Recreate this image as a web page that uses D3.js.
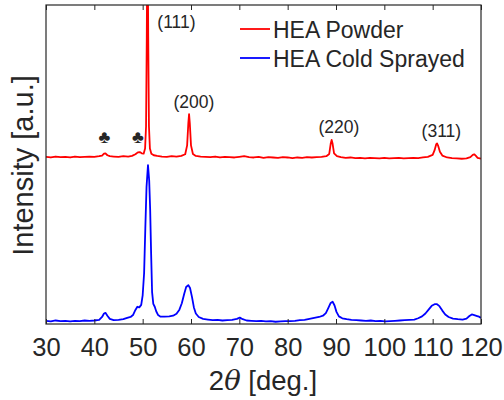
<!DOCTYPE html>
<html>
<head>
<meta charset="utf-8">
<script src="https://cdn.jsdelivr.net/npm/d3@7"></script>
<style>
  html, body { margin: 0; padding: 0; background: #fff; }
  svg { display: block; }
  text { font-family: "Liberation Sans", Arial, Helvetica, sans-serif; fill: #262626; }
</style>
</head>
<body>
<svg id="chart" width="504" height="400"></svg>
<script>
// ---- data (2θ in degrees, intensity in arbitrary units) ----
const xTicks = [30, 40, 50, 60, 70, 80, 90, 100, 110, 120];
const seriesNames = ["HEA Powder", "HEA Cold Sprayed"];
const seriesColors = ["#ff0000", "#0000ff"];

const powderTheta = [30,31,32,33,34,35,36,37,38,39,40,41,41.6,42.0,42.3,42.7,43.2,44,45,46,47,47.8,48.5,49.0,49.4,49.8,50.2,50.5,50.7,50.85,51.0,51.15,51.3,51.5,51.8,52.3,53,54,55,56,57,58,58.8,59.2,59.45,59.6,59.75,60.0,60.4,61,62,63,64,65,66,67,68,69,70,71,72,73,74,75,76,77,78,79,80,81,82,83,84,85,86,87,88,88.6,88.9,89.1,89.3,89.6,90.2,91,92,93,94,95,96,97,98,99,100,101,102,103,104,105,106,107,108,109,110.0,110.4,110.75,110.9,111.1,111.5,112.0,113,114,115,116,117,117.8,118.3,118.6,118.9,119.3,120];
const powderInt = [52.4,52.2,52.5,52.3,52.4,52.2,52.5,52.3,52.4,52.5,52.4,52.6,52.8,53.4,53.5,52.9,52.6,52.5,52.4,52.6,52.5,52.7,53.2,53.8,53.9,53.5,53.4,55,62,90,130,90,62,55,53.4,52.9,52.7,52.5,52.4,52.6,52.5,52.7,53.2,56,63,65.8,63,56,53.3,52.7,52.5,52.4,52.3,52.5,52.2,52.4,52.3,52.2,52.4,52.6,52.3,52.2,52.4,52.1,52.3,52.2,52.1,52.3,52.2,52.0,52.2,52.1,52.3,52.2,52.3,52.4,52.6,53.3,56.5,57.7,56.5,53.5,52.6,52.3,52.1,52.2,52.0,52.1,51.9,52.1,52.0,51.9,52.1,51.9,52.0,52.1,51.9,52.0,52.1,52.0,52.2,52.4,53.0,54.5,56.4,56.6,56.0,54.0,52.8,52.2,52.0,51.9,51.8,51.9,52.3,53.0,53.2,52.8,52.1,51.8];

const sprayTheta = [30,31,32,33,34,35,36,37,38,39,40,41,41.6,42.0,42.3,42.7,43.2,44,45,46,46.8,47.5,48.0,48.5,48.9,49.3,49.7,50.0,50.3,50.55,50.8,51.1,51.35,51.55,51.75,51.95,52.2,52.5,52.8,53.2,53.7,54.5,55.5,56.3,57.0,57.6,58.1,58.6,59.0,59.45,59.8,60.2,60.6,61.0,61.6,62.5,63.5,64.5,65.5,66.5,67.5,68.5,69.5,70.1,70.7,71.5,72.5,73.5,74.5,75.5,76.5,77.5,78.5,79.5,80.5,81.5,82.5,83.5,84.5,85.5,86.5,87.3,87.9,88.4,88.9,89.3,89.7,90.1,90.6,91.3,92.2,93.2,94.2,95.2,96.2,97.2,98.2,99.2,100.2,101.2,102.2,103.2,104.2,105.2,106.2,107.0,107.8,108.5,109.2,109.8,110.4,110.9,111.4,112.0,112.6,113.3,114.2,115.2,116.2,117.0,117.6,118.1,118.6,119.2,119.6,120];
const sprayInt = [1.0,0.8,1.1,0.9,1.0,0.8,1.0,0.9,1.1,1.0,1.1,1.3,2.2,3.3,3.5,2.6,1.6,1.2,1.3,1.5,1.9,2.2,2.8,4.4,5.4,5.2,6.0,9,16,30,43,49.8,45,36,22,10,6.3,5.4,4.0,2.8,2.3,2.3,2.4,2.6,3.2,4.5,6.5,9.5,11.6,12.2,11.3,8.5,5.2,3.3,2.2,1.6,1.4,1.2,1.3,1.1,1.2,1.3,1.6,2.0,1.5,1.1,1.0,0.9,1.0,0.8,0.9,0.7,0.8,0.9,0.9,1.0,1.2,1.3,1.6,1.9,2.2,2.6,3.4,5.0,6.6,7.0,5.8,3.8,2.4,1.8,1.5,1.3,1.2,1.1,1.0,1.1,0.9,1.0,0.8,0.9,1.0,1.1,1.2,1.3,1.4,1.8,2.4,3.3,4.6,5.7,6.2,6.2,5.6,4.2,3.0,2.2,1.7,1.5,1.4,1.7,2.5,3.0,2.8,2.5,2.3,1.9];

const peakLabels = ["(111)", "(200)", "(220)", "(311)"];
const peakLabelTheta = [57.0, 60.6, 90.6, 111.8];
const peakLabelInt = [92.8, 67.6, 59.8, 58.5];
const phaseMarkTheta = [42.1, 49.0];
const phaseMarkInt = [56.8, 56.8];

// ---- layout ----
const svg = d3.select("#chart");
const mLeft = 46, mRight = 481, mTop = 5, mBottom = 324;
const x = d3.scaleLinear().domain([30, 120]).range([mLeft, mRight]);
const y = d3.scaleLinear().domain([0, 100]).range([mBottom, mTop]);
const ink = "#262626";

svg.append("defs").append("clipPath").attr("id", "plotclip")
  .append("rect").attr("x", mLeft).attr("y", mTop).attr("width", mRight - mLeft).attr("height", mBottom - mTop);

const plot = svg.append("g").attr("clip-path", "url(#plotclip)");
const line = d3.line().x(d => x(d[0])).y(d => y(d[1]));

const powder = d3.zip(powderTheta, powderInt);
const spray = d3.zip(sprayTheta, sprayInt);
[powder, spray].forEach((data, i) => {
  plot.append("path").datum(data)
    .attr("d", line)
    .attr("fill", "none")
    .attr("stroke", seriesColors[i])
    .attr("stroke-width", 1.8)
    .attr("stroke-linejoin", "round");
});

// axes (ticks inside, top and bottom)
const xb = svg.append("g").attr("transform", `translate(0,${mBottom})`)
  .call(d3.axisBottom(x).tickValues(xTicks).tickSizeInner(-5).tickSizeOuter(0).tickPadding(14));
xb.select(".domain").remove();
xb.selectAll("line").attr("stroke", ink);
xb.selectAll("text").attr("font-size", 25.5).attr("fill", ink)
  .attr("font-family", "Liberation Sans, Arial, sans-serif");

const xt = svg.append("g").attr("transform", `translate(0,${mTop})`)
  .call(d3.axisTop(x).tickValues(xTicks).tickSizeInner(-5).tickSizeOuter(0).tickFormat(""));
xt.select(".domain").remove();
xt.selectAll("line").attr("stroke", ink);

svg.append("rect").attr("x", mLeft).attr("y", mTop)
  .attr("width", mRight - mLeft).attr("height", mBottom - mTop)
  .attr("fill", "none").attr("stroke", ink).attr("stroke-width", 1.2);

// axis titles
const xl = svg.append("text").attr("x", 263).attr("y", 390)
  .attr("text-anchor", "middle").attr("font-size", 27.5);
xl.append("tspan").text("2");
xl.append("tspan").attr("font-style", "italic").attr("font-family", "DejaVu Serif, serif").text("θ");
xl.append("tspan").text(" [deg.]");

svg.append("text").attr("transform", "translate(33,165.5) rotate(-90)")
  .attr("text-anchor", "middle").attr("font-size", 29).text("Intensity [a.u.]");

// peak annotations
svg.selectAll(".peak").data(peakLabels).join("text")
  .attr("class", "peak")
  .attr("x", (d, i) => x(peakLabelTheta[i]))
  .attr("y", (d, i) => y(peakLabelInt[i]))
  .attr("text-anchor", "middle").attr("font-size", 17.5)
  .attr("fill", "#000").text(d => d);

svg.selectAll(".club").data(phaseMarkTheta).join("text")
  .attr("class", "club")
  .attr("x", d => x(d))
  .attr("y", (d, i) => y(phaseMarkInt[i]))
  .attr("text-anchor", "middle").attr("font-size", 18)
  .attr("font-family", "DejaVu Sans, sans-serif")
  .attr("fill", "#000").text("♣");

// legend
const leg = svg.append("g");
seriesNames.forEach((name, i) => {
  const ly = 29 + i * 29;
  leg.append("line").attr("x1", 240).attr("x2", 270).attr("y1", ly).attr("y2", ly)
    .attr("stroke", seriesColors[i]).attr("stroke-width", 1.8);
  leg.append("text").attr("x", 273).attr("y", ly + 8.5).attr("font-size", 23)
    .attr("fill", "#000").text(name);
});
</script>
</body>
</html>
